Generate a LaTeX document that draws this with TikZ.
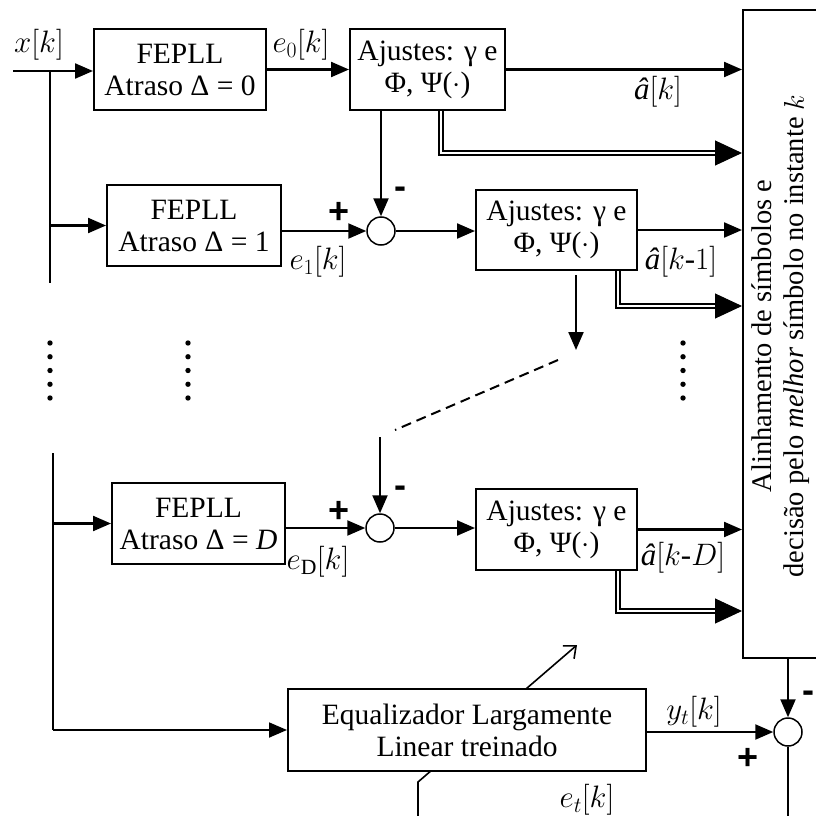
\RequirePackage{fix-cm}
\documentclass[tikz,border=0pt]{standalone}
\usepackage{fontspec}
\setmainfont{Liberation Serif}
\newfontfamily\signfont{Liberation Sans}
\usetikzlibrary{arrows.meta,calc,backgrounds}
\newcommand{\ahat}{\mbox{\itshape â}}
\begin{document}
\begin{tikzpicture}[x=1pt,y=-1pt, font=\fontsize{29.5}{32}\selectfont,
 box/.style={draw, line width=2pt, fill=white, align=center, inner sep=0pt},
 sumnode/.style={circle, draw, line width=1.5pt, minimum size=28pt, inner sep=0pt, fill=white},
 conn/.style={line width=2.2pt, -{Triangle[length=18pt,width=15pt]}},
 plain/.style={line width=2.2pt},
 dbl/.style={double, double distance=2pt, line width=2.2pt},
 bigtip/.style={line width=1pt, -{Triangle[length=27pt,width=25pt]}},
 lbl/.style={inner sep=0pt, font=\fontsize{31}{31}\selectfont},
 sgn/.style={font=\signfont\bfseries\fontsize{36}{36}\selectfont, inner sep=0pt}
]
\useasboundingbox (0,0) rectangle (815,816);

% blocks
\node[box, minimum width=172pt, minimum height=81pt] (f0) at (180,69.5) {FEPLL\\Atraso Δ = 0};
\node[box, minimum width=155pt, minimum height=81pt] (a0) at (427.5,69.5) {Ajustes: γ e\\Φ, Ψ($\cdot$)};
\node[box, minimum width=174pt, minimum height=81pt] (f1) at (194,225.5) {FEPLL\\Atraso Δ = 1};
\node[box, minimum width=161pt, minimum height=80pt] (a1) at (556.5,230) {Ajustes: γ e\\Φ, Ψ($\cdot$)};
\node[box, minimum width=173pt, minimum height=81pt] (fD) at (198.5,523.5) {FEPLL\\Atraso Δ = \textit{D}};
\node[box, minimum width=161pt, minimum height=81pt] (aD) at (556.5,529.5) {Ajustes: γ e\\Φ, Ψ($\cdot$)};
\node[box, minimum width=358pt, minimum height=82pt] (eq) at (467,730) {Equalizador Largamente\\Linear treinado};
\node[draw, line width=2pt, minimum width=110pt, minimum height=648pt, inner sep=0pt] (big) at (798,334) {};
\node[inner sep=0pt, rotate=90, align=center, font=\fontsize{28.5}{32}\selectfont] (bigt) at (781,336) {Alinhamento de símbolos e\\decisão pelo \textit{melhor} símbolo no instante $k$};

\node[sumnode] (s1) at (381,231) {};
\node[sumnode] (s2) at (380,528) {};
\node[sumnode] (s3) at (788,732) {};

% coordinates
\coordinate (in) at (13,71);
\coordinate (b0) at (50,71);
\coordinate (b1) at (50,283);
\coordinate (b2) at (53,453);
\coordinate (b3) at (53,730);
\coordinate (d0) at (441,153);
\coordinate (d1) at (618,306);
\coordinate (dD) at (618,611);
\coordinate (v1s) at (576,275);
\coordinate (v1e) at (576,350);
\coordinate (dash1) at (558,360);
\coordinate (dash2) at (395,430);
\coordinate (v2s) at (380,437);
\coordinate (et0) at (418,830);
\coordinate (et1) at (418,782);
\coordinate (adapt) at (577,645);
\coordinate (bot3) at (788,830);

% adaptation arrow behind equalizer box
\begin{pgfonlayer}{background}
\draw[line width=1.6pt, -{Straight Barb[length=10pt,width=17pt]}] (et0) -- (et1) -- (adapt);
\end{pgfonlayer}

% connectors
\draw[conn] (in) -- (in -| f0.west);
\draw[plain] (b0) -- (b1);
\draw[conn] (f1.west -| b0) -- (f1.west);
\draw[conn] (f0.east) -- (a0.west);
\draw[conn] (a0.east) -- (a0.east -| big.west);
\draw[conn] (a0.south -| s1) -- (s1.north);
\draw[dbl] (a0.south -| d0) -- (d0) -- ($(d0 -| big.west)+(-24,0)$);
\draw[bigtip] ($(d0 -| big.west)+(-27,0)$) -- (d0 -| big.west);

\draw[conn] (f1.east |- s1) -- (s1.west);
\draw[conn] (s1.east) -- (s1.east -| a1.west);
\draw[conn] (a1.east) -- (a1.east -| big.west);
\draw[dbl] (a1.south -| d1) -- (d1) -- ($(d1 -| big.west)+(-24,0)$);
\draw[bigtip] ($(d1 -| big.west)+(-27,0)$) -- (d1 -| big.west);
\draw[conn] (v1s) -- (v1e);
\draw[line width=2pt, dash pattern=on 10pt off 6pt] (dash1) -- (dash2);
\draw[conn] (v2s) -- (s2.north);

\draw[plain] (b2) -- (b3);
\draw[conn, line width=1.8pt] (b3) -- (b3 -| eq.west);
\draw[conn] (fD.west -| b2) -- (fD.west);
\draw[conn] (fD.east |- s2) -- (s2.west);
\draw[conn] (s2.east) -- (s2.east -| aD.west);
\draw[conn] (aD.east) -- (aD.east -| big.west);
\draw[dbl] (aD.south -| dD) -- (dD) -- ($(dD -| big.west)+(-24,0)$);
\draw[bigtip] ($(dD -| big.west)+(-27,0)$) -- (dD -| big.west);

\draw[conn] (big.south -| s3) -- (s3.north);
\draw[conn] (eq.east |- s3) -- (s3.west);
\draw[plain, line width=1.8pt] (s3.south) -- (bot3);

% dots
\foreach \xx in {50,188,683} {
  \foreach \i in {0,...,4} {
    \fill (\xx,{343+13.75*\i}) circle (2.7pt);
  }
}

% labels
\node[lbl] (lx) at (39,45) {$x[k]$};
\node[lbl] (le0) at (301,45) {$e_0[k]$};
\node[lbl] (la0) at (658,92) {$\ahat[k]$};
\node[lbl] (le1) at (318,262) {$e_1[k]$};
\node[lbl] (la1) at (681,262) {$\ahat[k\mbox{-}1]$};
\node[lbl] (leD) at (318,562) {$e_{\mathrm{D}}[k]$};
\node[lbl] (laD) at (683,558) {$\ahat[k\mbox{-}D]$};
\node[lbl] (lyt) at (694,712) {$y_t[k]$};
\node[lbl] (let) at (587,800) {$e_t[k]$};

\node[sgn] (p1) at (339,213) {+};
\node[sgn] (m1) at (400,193) {-};
\node[sgn] (p2) at (339,512) {+};
\node[sgn] (m2) at (400,492) {-};
\node[sgn] (p3) at (748,759) {+};
\node[sgn] (m3) at (808,697) {-};
\end{tikzpicture}
\end{document}
